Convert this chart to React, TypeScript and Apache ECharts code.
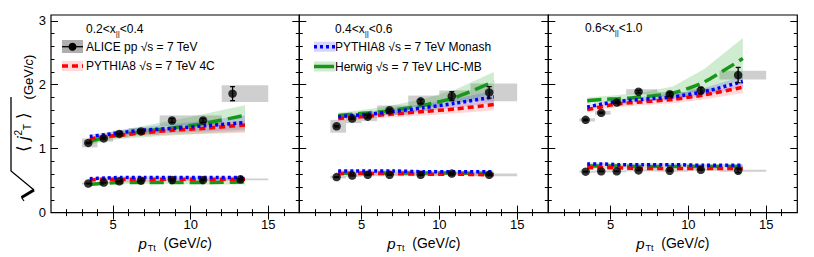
import React, { useEffect, useRef } from 'react';
import * as echarts from 'echarts';

const FONT = '"Liberation Sans", Arial, Helvetica, sans-serif';

// ---------- x positions ----------
const binLo = [3, 4, 5, 6, 8, 10, 12];
const binHi = [4, 5, 6, 8, 10, 12, 15];
const ptData = [3.4, 4.4, 5.4, 6.8, 8.8, 10.8, 13.2];
const ptWideP1 = [3.4, 4.4, 5.4, 6.8, 8.8, 10.8, 12.7];
const modelPt = [3.5, 4.5, 5.5, 7, 9, 11, 13.5];

// ---------- tick labels ----------
const xTickLabels = [5, 10, 15];
const xMinorTicks = [2, 3, 4, 6, 7, 8, 9, 11, 12, 13, 14, 16];
const yTickLabels = [0, 1, 2, 3];
const yMinorTicks = [0.2, 0.4, 0.6, 0.8, 1.2, 1.4, 1.6, 1.8, 2.2, 2.4, 2.6, 2.8];

// ---------- Panel 1 : 0.2 < x|| < 0.4 ----------
const p1WideData = [1.09, 1.16, 1.23, 1.27, 1.44, 1.44, 1.86];
const p1WideStat = [0.01, 0.01, 0.01, 0.02, 0.03, 0.03, 0.11];
const p1WideSys = [0.07, 0.05, 0.05, 0.05, 0.08, 0.08, 0.13];
const p1NarrowData = [0.455, 0.47, 0.49, 0.5, 0.51, 0.51, 0.52];
const p1NarrowStat = [0.005, 0.005, 0.005, 0.005, 0.01, 0.01, 0.01];
const p1NarrowSys = [0.015, 0.015, 0.015, 0.015, 0.015, 0.015, 0.015];

const p1Wide4C = [1.15, 1.19, 1.21, 1.25, 1.29, 1.32, 1.37];
const p1Wide4CLo = [1.12, 1.15, 1.17, 1.2, 1.22, 1.23, 1.25];
const p1Wide4CHi = [1.18, 1.22, 1.25, 1.29, 1.34, 1.38, 1.44];
const p1WideMonash = [1.19, 1.22, 1.25, 1.29, 1.32, 1.36, 1.41];
const p1WideMonashLo = [1.16, 1.19, 1.21, 1.24, 1.25, 1.27, 1.3];
const p1WideMonashHi = [1.22, 1.25, 1.29, 1.34, 1.39, 1.44, 1.52];
const p1WideHerwig = [1.11, 1.18, 1.22, 1.27, 1.33, 1.4, 1.52];
const p1WideHerwigLo = [1.06, 1.12, 1.15, 1.18, 1.21, 1.24, 1.27];
const p1WideHerwigHi = [1.16, 1.24, 1.29, 1.36, 1.45, 1.55, 1.68];

const p1Narrow4C = [0.51, 0.52, 0.52, 0.52, 0.52, 0.52, 0.52];
const p1Narrow4CLo = [0.49, 0.5, 0.5, 0.5, 0.5, 0.5, 0.5];
const p1Narrow4CHi = [0.53, 0.54, 0.54, 0.54, 0.54, 0.54, 0.54];
const p1NarrowMonash = [0.53, 0.54, 0.55, 0.55, 0.55, 0.55, 0.55];
const p1NarrowMonashLo = [0.51, 0.52, 0.53, 0.53, 0.53, 0.53, 0.53];
const p1NarrowMonashHi = [0.55, 0.56, 0.57, 0.57, 0.57, 0.57, 0.57];
const p1NarrowHerwig = [0.44, 0.46, 0.47, 0.47, 0.47, 0.47, 0.48];
const p1NarrowHerwigLo = [0.42, 0.44, 0.45, 0.45, 0.45, 0.44, 0.44];
const p1NarrowHerwigHi = [0.46, 0.48, 0.49, 0.49, 0.5, 0.5, 0.52];

// ---------- Panel 2 : 0.4 < x|| < 0.6 ----------
const p2WideData = [1.35, 1.47, 1.5, 1.6, 1.74, 1.82, 1.88];
const p2WideStat = [0.01, 0.01, 0.02, 0.02, 0.03, 0.07, 0.09];
const p2WideSys = [0.1, 0.07, 0.07, 0.075, 0.09, 0.09, 0.14];
const p2NarrowData = [0.555, 0.58, 0.59, 0.59, 0.59, 0.61, 0.59];
const p2NarrowStat = [0.005, 0.005, 0.005, 0.005, 0.01, 0.01, 0.01];
const p2NarrowSys = [0.02, 0.02, 0.02, 0.02, 0.02, 0.02, 0.02];

const p2Wide4C = [1.47, 1.49, 1.51, 1.54, 1.58, 1.62, 1.69];
const p2Wide4CLo = [1.43, 1.45, 1.47, 1.49, 1.52, 1.55, 1.6];
const p2Wide4CHi = [1.5, 1.52, 1.55, 1.58, 1.63, 1.68, 1.76];
const p2WideMonash = [1.5, 1.52, 1.54, 1.58, 1.64, 1.71, 1.81];
const p2WideMonashLo = [1.47, 1.48, 1.5, 1.53, 1.58, 1.64, 1.72];
const p2WideMonashHi = [1.53, 1.56, 1.58, 1.63, 1.7, 1.78, 1.9];
const p2WideHerwig = [1.52, 1.54, 1.56, 1.6, 1.68, 1.8, 2.05];
const p2WideHerwigLo = [1.48, 1.5, 1.51, 1.53, 1.58, 1.68, 1.88];
const p2WideHerwigHi = [1.56, 1.59, 1.62, 1.68, 1.78, 1.92, 2.2];

const p2Narrow4C = [0.61, 0.61, 0.61, 0.61, 0.6, 0.6, 0.59];
const p2Narrow4CLo = [0.59, 0.59, 0.59, 0.59, 0.58, 0.58, 0.57];
const p2Narrow4CHi = [0.63, 0.63, 0.63, 0.63, 0.62, 0.62, 0.61];
const p2NarrowMonash = [0.65, 0.65, 0.65, 0.65, 0.64, 0.64, 0.64];
const p2NarrowMonashLo = [0.63, 0.63, 0.63, 0.63, 0.62, 0.62, 0.62];
const p2NarrowMonashHi = [0.67, 0.67, 0.67, 0.67, 0.66, 0.66, 0.66];
const p2NarrowHerwig = [0.61, 0.62, 0.62, 0.62, 0.62, 0.62, 0.61];
const p2NarrowHerwigLo = [0.59, 0.6, 0.6, 0.6, 0.6, 0.6, 0.59];
const p2NarrowHerwigHi = [0.63, 0.64, 0.64, 0.64, 0.64, 0.64, 0.63];

// ---------- Panel 3 : 0.6 < x|| < 1.0 ----------
const p3WideData = [1.45, 1.56, 1.72, 1.89, 1.85, 1.91, 2.15];
const p3WideStat = [0.01, 0.01, 0.01, 0.02, 0.03, 0.05, 0.12];
const p3WideSys = [0.025, 0.03, 0.03, 0.04, 0.035, 0.03, 0.07];
const p3NarrowData = [0.64, 0.645, 0.645, 0.66, 0.655, 0.67, 0.655];
const p3NarrowStat = [0.005, 0.005, 0.005, 0.005, 0.01, 0.01, 0.03];
const p3NarrowSys = [0.015, 0.015, 0.015, 0.015, 0.015, 0.015, 0.015];

const p3Wide4C = [1.61, 1.66, 1.7, 1.73, 1.77, 1.84, 1.96];
const p3Wide4CLo = [1.57, 1.62, 1.65, 1.68, 1.71, 1.77, 1.87];
const p3Wide4CHi = [1.64, 1.69, 1.73, 1.76, 1.81, 1.88, 2.02];
const p3WideMonash = [1.65, 1.7, 1.74, 1.77, 1.81, 1.89, 2.05];
const p3WideMonashLo = [1.61, 1.66, 1.7, 1.73, 1.76, 1.82, 1.96];
const p3WideMonashHi = [1.68, 1.73, 1.77, 1.81, 1.86, 1.95, 2.13];
const p3WideHerwig = [1.75, 1.77, 1.78, 1.81, 1.87, 2.04, 2.41];
const p3WideHerwigLo = [1.7, 1.72, 1.73, 1.75, 1.78, 1.86, 2.08];
const p3WideHerwigHi = [1.8, 1.82, 1.84, 1.88, 1.97, 2.24, 2.73];

const p3Narrow4C = [0.7, 0.7, 0.7, 0.69, 0.69, 0.69, 0.69];
const p3Narrow4CLo = [0.68, 0.68, 0.68, 0.67, 0.67, 0.67, 0.67];
const p3Narrow4CHi = [0.72, 0.72, 0.72, 0.71, 0.71, 0.71, 0.71];
const p3NarrowMonash = [0.76, 0.76, 0.75, 0.75, 0.75, 0.74, 0.74];
const p3NarrowMonashLo = [0.74, 0.74, 0.73, 0.73, 0.73, 0.72, 0.72];
const p3NarrowMonashHi = [0.78, 0.78, 0.77, 0.77, 0.77, 0.76, 0.76];
const p3NarrowHerwig = [0.73, 0.73, 0.73, 0.72, 0.72, 0.72, 0.72];
const p3NarrowHerwigLo = [0.71, 0.71, 0.71, 0.7, 0.7, 0.7, 0.7];
const p3NarrowHerwigHi = [0.75, 0.75, 0.75, 0.74, 0.74, 0.74, 0.74];

// ---------- annotations ----------
const panelRanges = ['0.2<x', '0.4<x', '0.6<x'];
const panelRangesHi = ['<0.4', '<0.6', '<1.0'];
const wideLabelPos = [[8.8, 0.99], [8.6, 1.3], [8.9, 1.54]];
const narrowLabelPos = [[8.8, 0.28], [8.9, 0.365], [8.9, 0.44]];

// ---------- style ----------
const GRID_LEFT = [51, 299.3, 548.3];
const GRID_W = [248.3, 249, 249];
const GRID_TOP = 15;
const GRID_H = 203.3;

const C4C = '#ff0000';
const CMON = '#0000ff';
const CHER = '#17961a';
const B4C = 'rgba(255,80,80,0.22)';
const BMON = 'rgba(70,70,255,0.22)';
const BHER = 'rgba(40,170,40,0.22)';
const DASH4C = [6, 4];
const DASHMON = [3, 3];
const DASHHER = [14, 6];

const panels = [
  {
    wideX: ptWideP1, wide: p1WideData, wideStat: p1WideStat, wideSys: p1WideSys,
    narrow: p1NarrowData, narrowStat: p1NarrowStat, narrowSys: p1NarrowSys,
    models: [
      [p1WideHerwig, p1WideHerwigLo, p1WideHerwigHi, p1NarrowHerwig, p1NarrowHerwigLo, p1NarrowHerwigHi],
      [p1WideMonash, p1WideMonashLo, p1WideMonashHi, p1NarrowMonash, p1NarrowMonashLo, p1NarrowMonashHi],
      [p1Wide4C, p1Wide4CLo, p1Wide4CHi, p1Narrow4C, p1Narrow4CLo, p1Narrow4CHi],
    ],
  },
  {
    wideX: ptData, wide: p2WideData, wideStat: p2WideStat, wideSys: p2WideSys,
    narrow: p2NarrowData, narrowStat: p2NarrowStat, narrowSys: p2NarrowSys,
    models: [
      [p2WideHerwig, p2WideHerwigLo, p2WideHerwigHi, p2NarrowHerwig, p2NarrowHerwigLo, p2NarrowHerwigHi],
      [p2WideMonash, p2WideMonashLo, p2WideMonashHi, p2NarrowMonash, p2NarrowMonashLo, p2NarrowMonashHi],
      [p2Wide4C, p2Wide4CLo, p2Wide4CHi, p2Narrow4C, p2Narrow4CLo, p2Narrow4CHi],
    ],
  },
  {
    wideX: ptData, wide: p3WideData, wideStat: p3WideStat, wideSys: p3WideSys,
    narrow: p3NarrowData, narrowStat: p3NarrowStat, narrowSys: p3NarrowSys,
    models: [
      [p3WideHerwig, p3WideHerwigLo, p3WideHerwigHi, p3NarrowHerwig, p3NarrowHerwigLo, p3NarrowHerwigHi],
      [p3WideMonash, p3WideMonashLo, p3WideMonashHi, p3NarrowMonash, p3NarrowMonashLo, p3NarrowMonashHi],
      [p3Wide4C, p3Wide4CLo, p3Wide4CHi, p3Narrow4C, p3Narrow4CLo, p3Narrow4CHi],
    ],
  },
];
const modelStyles = [
  { color: CHER, band: BHER, dash: DASHHER },
  { color: CMON, band: BMON, dash: DASHMON },
  { color: C4C, band: B4C, dash: DASH4C },
];

function xAxis(g: number, pos: string, major: boolean, labels: boolean) {
  const ax: any = {
    type: 'value', gridIndex: g, position: pos, min: 1, max: 17,
    axisLine: { show: false }, splitLine: { show: false },
    axisTick: {
      show: true, inside: true, length: major ? 7 : 3.5,
      customValues: major ? xTickLabels : xMinorTicks,
      lineStyle: { color: '#000', width: 1 },
    },
    axisLabel: {
      show: labels, customValues: xTickLabels, margin: 5, color: '#000',
      fontSize: 13, fontFamily: FONT,
    },
  };
  if (labels) {
    ax.name = '{p|p}{s|Tt}{n|  (GeV/}{p2|c}{n|)}';
    ax.nameLocation = 'middle';
    ax.nameGap = 14;
    ax.nameTextStyle = {
      rich: {
        p: { fontSize: 15, fontStyle: 'italic', fontFamily: FONT, color: '#000' },
        p2: { fontSize: 14, fontStyle: 'italic', fontFamily: FONT, color: '#000' },
        s: { fontSize: 9, fontFamily: FONT, color: '#000', padding: [9, 0, 0, 1] },
        n: { fontSize: 14, fontFamily: FONT, color: '#000' },
      },
    };
  }
  return ax;
}

function yAxis(g: number, pos: string, major: boolean, labels: boolean) {
  return {
    type: 'value', gridIndex: g, position: pos, min: 0, max: 3.09,
    axisLine: { show: false }, splitLine: { show: false },
    axisTick: {
      show: true, inside: true, length: major ? 7 : 3.5,
      customValues: major ? yTickLabels : yMinorTicks,
      lineStyle: { color: '#000', width: 1 },
    },
    axisLabel: {
      show: labels, customValues: yTickLabels, margin: 5, color: '#000',
      fontSize: 13, fontFamily: FONT,
    },
  };
}

function boxSeries(g: number, xs: number[], ys: number[], sys: number[]) {
  return {
    type: 'custom', xAxisIndex: 4 * g, yAxisIndex: 4 * g, z: 1, silent: true,
    data: xs.map((x, i) => [x, ys[i], binLo[i], binHi[i], sys[i]]),
    renderItem: (params: any, api: any) => {
      const y = api.value(1);
      const e = api.value(4);
      const p0 = api.coord([api.value(2), y + e]);
      const p1 = api.coord([api.value(3), y - e]);
      return {
        type: 'rect',
        shape: { x: p0[0], y: p0[1], width: p1[0] - p0[0], height: p1[1] - p0[1] },
        style: { fill: 'rgba(160,160,160,0.5)' },
      };
    },
  };
}

function errSeries(g: number, xs: number[], ys: number[], err: number[]) {
  return {
    type: 'custom', xAxisIndex: 4 * g, yAxisIndex: 4 * g, z: 4, silent: true,
    data: xs.map((x, i) => [x, ys[i], err[i]]),
    renderItem: (params: any, api: any) => {
      const x = api.value(0), y = api.value(1), e = api.value(2);
      const a = api.coord([x, y + e]);
      const b = api.coord([x, y - e]);
      const st = { stroke: '#000', lineWidth: 1.3 };
      return {
        type: 'group',
        children: [
          { type: 'line', shape: { x1: a[0], y1: a[1], x2: b[0], y2: b[1] }, style: st },
          { type: 'line', shape: { x1: a[0] - 2.5, y1: a[1], x2: a[0] + 2.5, y2: a[1] }, style: st },
          { type: 'line', shape: { x1: b[0] - 2.5, y1: b[1], x2: b[0] + 2.5, y2: b[1] }, style: st },
        ],
      };
    },
  };
}

function bandSeries(g: number, lo: number[], hi: number[], color: string) {
  return {
    type: 'custom', xAxisIndex: 4 * g, yAxisIndex: 4 * g, z: 2, silent: true,
    data: modelPt.map((x, i) => [x, lo[i], hi[i]]),
    renderItem: (params: any, api: any) => {
      if (params.dataIndex !== 0) return null;
      const pts: number[][] = [];
      for (let i = 0; i < modelPt.length; i++) pts.push(api.coord([modelPt[i], hi[i]]));
      for (let i = modelPt.length - 1; i >= 0; i--) pts.push(api.coord([modelPt[i], lo[i]]));
      return { type: 'polygon', shape: { points: pts }, style: { fill: color } };
    },
  };
}

function lineSeries(g: number, v: number[], color: string, dash: number[], z: number) {
  return {
    type: 'line', xAxisIndex: 4 * g, yAxisIndex: 4 * g, z, silent: true,
    data: modelPt.map((x, i) => [x, v[i]]),
    showSymbol: false, symbol: 'none', smooth: 0.25,
    lineStyle: { color, width: 3.5, type: dash, cap: 'butt' },
  };
}

function buildOption() {
  const grid: any[] = [];
  const xAxes: any[] = [];
  const yAxes: any[] = [];
  const series: any[] = [];
  for (let g = 0; g < 3; g++) {
    grid.push({
      left: GRID_LEFT[g], top: GRID_TOP, width: GRID_W[g], height: GRID_H,
      show: true, borderColor: '#000', borderWidth: 1.2, backgroundColor: 'transparent',
    });
    xAxes.push(xAxis(g, 'bottom', true, true));
    xAxes.push(xAxis(g, 'bottom', false, false));
    xAxes.push(xAxis(g, 'top', true, false));
    xAxes.push(xAxis(g, 'top', false, false));
    yAxes.push(yAxis(g, 'left', true, g === 0));
    yAxes.push(yAxis(g, 'left', false, false));
    yAxes.push(yAxis(g, 'right', true, false));
    yAxes.push(yAxis(g, 'right', false, false));

    const P = panels[g];
    series.push(boxSeries(g, P.wideX, P.wide, P.wideSys));
    series.push(boxSeries(g, ptData, P.narrow, P.narrowSys));
    P.models.forEach((m, k) => {
      series.push(bandSeries(g, m[1], m[2], modelStyles[k].band));
      series.push(bandSeries(g, m[4], m[5], modelStyles[k].band));
    });
    const lineZ = [3, 3.2, 3.1];
    P.models.forEach((m, k) => {
      series.push(lineSeries(g, m[0], modelStyles[k].color, modelStyles[k].dash, lineZ[k]));
      series.push(lineSeries(g, m[3], modelStyles[k].color, modelStyles[k].dash, lineZ[k]));
    });
    series.push(errSeries(g, P.wideX, P.wide, P.wideStat));
    series.push(errSeries(g, ptData, P.narrow, P.narrowStat));
    series.push({
      type: 'scatter', xAxisIndex: 4 * g, yAxisIndex: 4 * g, z: 5, silent: true,
      symbol: 'circle', symbolSize: 8.5, itemStyle: { color: '#000' },
      data: P.wideX.map((x, i) => [x, P.wide[i]]).concat(ptData.map((x, i) => [x, P.narrow[i]])),
    });
    series.push({
      type: 'scatter', xAxisIndex: 4 * g, yAxisIndex: 4 * g, z: 6, silent: true,
      symbolSize: 1, itemStyle: { opacity: 0 },
      label: {
        show: true, position: 'inside', formatter: '{b}', color: '#000',
        fontSize: 12, fontFamily: FONT,
      },
      data: [
        { name: 'Wide', value: wideLabelPos[g] },
        { name: 'Narrow', value: narrowLabelPos[g] },
      ],
    });
  }

  const txt = (x: number, y: number, text: string, size = 12) => ({
    type: 'text', x, y, silent: true,
    style: { text, fontSize: size, fontFamily: FONT, fill: '#000', verticalAlign: 'middle', align: 'left' },
  });
  const rangeLabel = (x: number, y: number, lo: string, hi: string) => ({
    type: 'text', x, y, silent: true,
    style: {
      text: `{a|${lo}}{s|||}{a|${hi}}`,
      verticalAlign: 'middle', align: 'left', fill: '#000',
      rich: {
        a: { fontSize: 12, fontFamily: FONT, fill: '#000' },
        s: { fontSize: 8, fontFamily: FONT, fill: '#000', padding: [8, 0, 0, 0] },
      },
    },
  });
  const modelLegend = (x: number, y: number, color: string, band: string, dash: number[]) => [
    { type: 'rect', shape: { x, y: y - 5, width: 21, height: 10 }, style: { fill: band }, silent: true },
    {
      type: 'line', shape: { x1: x, y1: y, x2: x + 21, y2: y }, silent: true,
      style: { stroke: color, lineWidth: 3.5, lineDash: dash },
    },
  ];

  const graphic: any[] = [
    rangeLabel(86, 29, panelRanges[0], panelRangesHi[0]),
    rangeLabel(335, 29, panelRanges[1], panelRangesHi[1]),
    rangeLabel(585, 28, panelRanges[2], panelRangesHi[2]),
    // ALICE legend
    { type: 'rect', shape: { x: 62, y: 40, width: 21, height: 13 }, style: { fill: 'rgba(140,140,140,0.7)' }, silent: true },
    { type: 'line', shape: { x1: 62, y1: 46.7, x2: 83, y2: 46.7 }, style: { stroke: '#000', lineWidth: 1.3 }, silent: true },
    { type: 'circle', shape: { cx: 72.5, cy: 46.7, r: 4 }, style: { fill: '#000' }, silent: true },
    txt(86, 47, 'ALICE pp √s = 7 TeV'),
    ...modelLegend(62, 66, C4C, B4C, DASH4C),
    txt(86, 66, 'PYTHIA8 √s = 7 TeV 4C'),
    ...modelLegend(314, 46.7, CMON, BMON, DASHMON),
    txt(335, 47, 'PYTHIA8 √s = 7 TeV Monash'),
    ...modelLegend(314, 66.5, CHER, BHER, [20, 2]),
    txt(335, 66.5, 'Herwig √s = 7 TeV LHC-MB'),
    // y-axis title: radical sign
    {
      type: 'polyline', silent: true,
      shape: { points: [[24, 201], [21.5, 197.5]] },
      style: { stroke: '#000', lineWidth: 1.2, fill: null },
    },
    {
      type: 'polyline', silent: true,
      shape: { points: [[21.5, 197.5], [34, 190]] },
      style: { stroke: '#000', lineWidth: 3, fill: null },
    },
    {
      type: 'polyline', silent: true,
      shape: { points: [[34, 190], [11, 171], [11, 97]] },
      style: { stroke: '#000', lineWidth: 1.3, fill: null },
    },
    {
      type: 'text', x: 23, y: 132, rotation: Math.PI / 2, silent: true,
      style: {
        text: '{b|⟨ }{i|j}{sp|2}{sub|T}{b| ⟩}',
        align: 'center', verticalAlign: 'middle',
        rich: {
          b: { fontSize: 17, fontFamily: FONT, fill: '#000' },
          i: { fontSize: 16, fontFamily: FONT, fontStyle: 'italic', fill: '#000' },
          sp: { fontSize: 10, fontFamily: FONT, fill: '#000', padding: [0, 0, 9, 1] },
          sub: { fontSize: 10, fontFamily: FONT, fill: '#000', padding: [9, 0, 0, 0] },
        },
      },
    },
    {
      type: 'text', x: 28, y: 77, rotation: Math.PI / 2, silent: true,
      style: {
        text: '{n|(GeV/}{i|c}{n|)}',
        align: 'center', verticalAlign: 'middle',
        rich: {
          n: { fontSize: 13, fontFamily: FONT, fill: '#000' },
          i: { fontSize: 13, fontFamily: FONT, fontStyle: 'italic', fill: '#000' },
        },
      },
    },
  ];

  return {
    animation: false,
    backgroundColor: '#fff',
    grid, xAxis: xAxes, yAxis: yAxes, series, graphic,
  };
}

export default function App() {
  const ref = useRef<HTMLDivElement>(null);
  useEffect(() => {
    if (!ref.current) return;
    const chart = echarts.init(ref.current, undefined, { renderer: 'svg' });
    chart.setOption(buildOption() as any);
    return () => chart.dispose();
  }, []);
  return (
    <div
      ref={ref}
      style={{ position: 'absolute', left: 0, top: 0, width: 814, height: 257 }}
    />
  );
}
